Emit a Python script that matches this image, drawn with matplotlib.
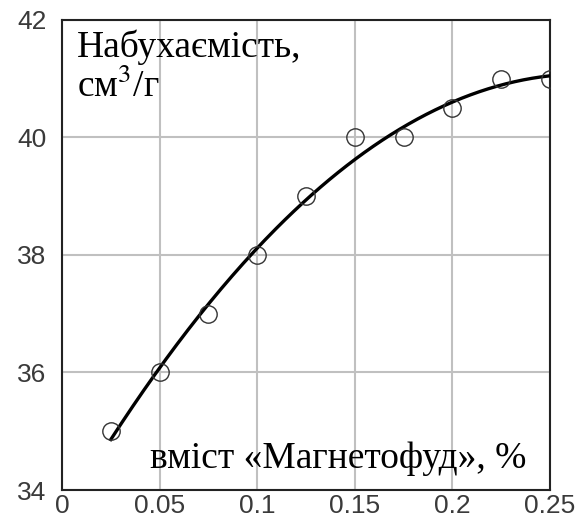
import numpy as np
import matplotlib
matplotlib.use("Agg")
import matplotlib.pyplot as plt

# measured points
content = [0.025, 0.05, 0.075, 0.1, 0.125, 0.15, 0.175, 0.2, 0.225, 0.25]
swelling = [35, 36, 37, 38, 39, 40, 40, 40.5, 41, 41]

x_ticks = [0, 0.05, 0.1, 0.15, 0.2, 0.25]
x_labels = ["0", "0.05", "0.1", "0.15", "0.2", "0.25"]
y_ticks = [34, 36, 38, 40, 42]

# quadratic trend line through the measured points
coef = np.polyfit(content, swelling, 2)
xs = np.linspace(content[0], content[-1], 200)
ys = np.polyval(coef, xs)

plt.rcParams["mathtext.fontset"] = "stix"

fig = plt.figure(figsize=(5.85, 5.22), dpi=100)
ax = fig.add_axes([0.106, 0.0613, 0.834, 0.9004])

ax.plot(xs, ys, color="black", lw=2.4, zorder=3)
ax.plot(content, swelling, linestyle="none", marker="o", markersize=12.5,
        markerfacecolor="none", markeredgecolor="#333333", markeredgewidth=1.0,
        zorder=4)

ax.set_xlim(0, 0.25)
ax.set_ylim(34, 42)
ax.set_xticks(x_ticks)
ax.set_xticklabels(x_labels)
ax.set_yticks(y_ticks)
ax.grid(True, color="#c0c0c0", lw=1.5)
ax.set_axisbelow(True)
ax.tick_params(length=0, labelsize=19, labelcolor="#3a3a3a")
ax.tick_params(axis="y", pad=11)
ax.tick_params(axis="x", pad=3)
for lab in ax.get_xticklabels() + ax.get_yticklabels():
    lab.set_family(["Liberation Sans", "DejaVu Sans"])
for sp in ax.spines.values():
    sp.set_linewidth(1.5)
    sp.set_color("#222222")

serif = ["Liberation Serif", "DejaVu Serif"]
ax.text(0.031, 0.921, "Набухаємість,", transform=ax.transAxes,
        fontsize=27, family=serif, va="baseline", ha="left")
ax.text(0.031, 0.836, "см$^{3}$/г", transform=ax.transAxes,
        fontsize=27, family=serif, va="baseline", ha="left")
ax.text(0.951, 0.047, "вміст «Магнетофуд», %", transform=ax.transAxes,
        fontsize=27, family=serif, va="baseline", ha="right")

fig.savefig("out.png", dpi=100)
